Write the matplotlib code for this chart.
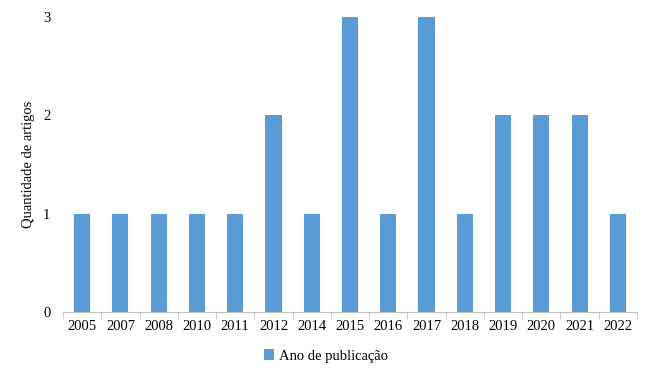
import matplotlib
matplotlib.use("Agg")
import matplotlib.pyplot as plt
import numpy as np

years = ["2005","2007","2008","2010","2011","2012","2014","2015","2016","2017","2018","2019","2020","2021","2022"]
counts = [1,1,1,1,1,2,1,3,1,3,1,2,2,2,1]

plt.rcParams['font.family'] = ['Liberation Serif', 'DejaVu Serif']
fig = plt.figure(figsize=(6.52, 3.76), dpi=100)
ax = fig.add_axes([63/652, 1-312/376, (637-63)/652, (312-17)/376])
x = np.arange(len(years))
ax.bar(x, counts, width=0.42, color='#5B9BD5', label='Ano de publicação', zorder=2)
ax.set_xlim(-0.5, len(years)-0.5)
ax.set_ylim(0, 3)
ax.set_yticks([0,1,2,3])
ax.set_xticks(x)
ax.set_xticklabels(years, fontsize=10.5)
ax.tick_params(axis='x', length=0, pad=6)
ax.set_xticks(np.arange(-0.5, len(years)), minor=True)
ax.tick_params(axis='x', which='minor', length=5, color='#BFBFBF', direction='out')
ax.tick_params(axis='y', length=0, labelsize=10.5, pad=9)
for s in ['top','right','left']:
    ax.spines[s].set_visible(False)
ax.spines['bottom'].set_color('#BFBFBF')
ax.set_ylabel('Quantidade de artigos', fontsize=10.5, labelpad=6)
fig.legend(loc='center', bbox_to_anchor=(0.5, 1-356/376), frameon=False, fontsize=10.5,
           handlelength=0.7, handleheight=0.7, handletextpad=0.3)
fig.savefig('out.png', dpi=100)
